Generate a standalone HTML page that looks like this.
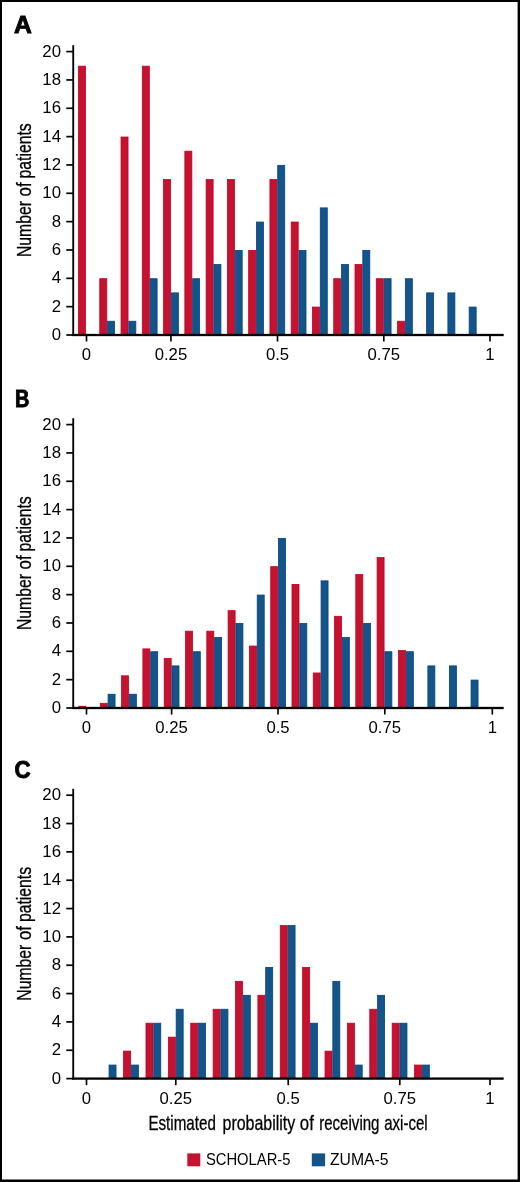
<!DOCTYPE html>
<html lang="en"><head><meta charset="utf-8"><title>Propensity score distributions</title>
<style>html,body{margin:0;padding:0;background:#fff}body{width:520px;height:1182px;overflow:hidden}svg{display:block;will-change:transform}text{font-family:'Liberation Sans', Arial, sans-serif;fill:#000}</style></head><body>
<svg width="520" height="1182" viewBox="0 0 520 1182">
<rect x="0" y="0" width="520" height="1182" fill="#fff"/>
<g fill="#000"><rect x="0" y="0" width="520" height="2"/><rect x="0" y="0" width="2" height="1182"/><rect x="517.6" y="0" width="2.4" height="1182"/><rect x="0" y="1179.5" width="520" height="2.5"/></g>
<g>
<text x="14.10" y="33.20" font-size="24.0" font-weight="bold" stroke="#000" stroke-width="0.9" textLength="17.8" lengthAdjust="spacingAndGlyphs">A</text>
<rect x="78.50" y="66.17" width="7.00" height="268.83" fill="#c41230" stroke="#c2001f" stroke-width="0.8"/>
<rect x="99.77" y="278.72" width="7.00" height="56.28" fill="#c41230" stroke="#c2001f" stroke-width="0.8"/>
<rect x="107.57" y="321.23" width="7.00" height="13.77" fill="#13558a" stroke="#06427c" stroke-width="0.8"/>
<rect x="121.04" y="137.02" width="7.00" height="197.98" fill="#c41230" stroke="#c2001f" stroke-width="0.8"/>
<rect x="128.84" y="321.23" width="7.00" height="13.77" fill="#13558a" stroke="#06427c" stroke-width="0.8"/>
<rect x="142.31" y="66.17" width="7.00" height="268.83" fill="#c41230" stroke="#c2001f" stroke-width="0.8"/>
<rect x="150.11" y="278.72" width="7.00" height="56.28" fill="#13558a" stroke="#06427c" stroke-width="0.8"/>
<rect x="163.58" y="179.53" width="7.00" height="155.47" fill="#c41230" stroke="#c2001f" stroke-width="0.8"/>
<rect x="171.38" y="292.89" width="7.00" height="42.11" fill="#13558a" stroke="#06427c" stroke-width="0.8"/>
<rect x="184.85" y="151.19" width="7.00" height="183.81" fill="#c41230" stroke="#c2001f" stroke-width="0.8"/>
<rect x="192.65" y="278.72" width="7.00" height="56.28" fill="#13558a" stroke="#06427c" stroke-width="0.8"/>
<rect x="206.12" y="179.53" width="7.00" height="155.47" fill="#c41230" stroke="#c2001f" stroke-width="0.8"/>
<rect x="213.92" y="264.55" width="7.00" height="70.45" fill="#13558a" stroke="#06427c" stroke-width="0.8"/>
<rect x="227.39" y="179.53" width="7.00" height="155.47" fill="#c41230" stroke="#c2001f" stroke-width="0.8"/>
<rect x="235.19" y="250.38" width="7.00" height="84.62" fill="#13558a" stroke="#06427c" stroke-width="0.8"/>
<rect x="248.66" y="250.38" width="7.00" height="84.62" fill="#c41230" stroke="#c2001f" stroke-width="0.8"/>
<rect x="256.46" y="222.04" width="7.00" height="112.96" fill="#13558a" stroke="#06427c" stroke-width="0.8"/>
<rect x="269.93" y="179.53" width="7.00" height="155.47" fill="#c41230" stroke="#c2001f" stroke-width="0.8"/>
<rect x="277.73" y="165.36" width="7.00" height="169.64" fill="#13558a" stroke="#06427c" stroke-width="0.8"/>
<rect x="291.20" y="222.04" width="7.00" height="112.96" fill="#c41230" stroke="#c2001f" stroke-width="0.8"/>
<rect x="299.00" y="250.38" width="7.00" height="84.62" fill="#13558a" stroke="#06427c" stroke-width="0.8"/>
<rect x="312.47" y="307.06" width="7.00" height="27.94" fill="#c41230" stroke="#c2001f" stroke-width="0.8"/>
<rect x="320.27" y="207.87" width="7.00" height="127.13" fill="#13558a" stroke="#06427c" stroke-width="0.8"/>
<rect x="333.74" y="278.72" width="7.00" height="56.28" fill="#c41230" stroke="#c2001f" stroke-width="0.8"/>
<rect x="341.54" y="264.55" width="7.00" height="70.45" fill="#13558a" stroke="#06427c" stroke-width="0.8"/>
<rect x="355.01" y="264.55" width="7.00" height="70.45" fill="#c41230" stroke="#c2001f" stroke-width="0.8"/>
<rect x="362.81" y="250.38" width="7.00" height="84.62" fill="#13558a" stroke="#06427c" stroke-width="0.8"/>
<rect x="376.28" y="278.72" width="7.00" height="56.28" fill="#c41230" stroke="#c2001f" stroke-width="0.8"/>
<rect x="384.08" y="278.72" width="7.00" height="56.28" fill="#13558a" stroke="#06427c" stroke-width="0.8"/>
<rect x="397.55" y="321.23" width="7.00" height="13.77" fill="#c41230" stroke="#c2001f" stroke-width="0.8"/>
<rect x="405.35" y="278.72" width="7.00" height="56.28" fill="#13558a" stroke="#06427c" stroke-width="0.8"/>
<rect x="426.62" y="292.89" width="7.00" height="42.11" fill="#13558a" stroke="#06427c" stroke-width="0.8"/>
<rect x="447.89" y="292.89" width="7.00" height="42.11" fill="#13558a" stroke="#06427c" stroke-width="0.8"/>
<rect x="469.16" y="307.06" width="7.00" height="27.94" fill="#13558a" stroke="#06427c" stroke-width="0.8"/>
<rect x="72.3" y="45.20" width="1.85" height="290.80" fill="#000"/>
<rect x="72.3" y="333.85" width="431.4" height="2.3" fill="#000"/>
<rect x="66.3" y="334.15" width="7" height="1.7" fill="#000"/>
<text x="61" y="340.00" font-size="16.8" text-anchor="end">0</text>
<rect x="66.3" y="305.81" width="7" height="1.7" fill="#000"/>
<text x="61" y="311.66" font-size="16.8" text-anchor="end">2</text>
<rect x="66.3" y="277.47" width="7" height="1.7" fill="#000"/>
<text x="61" y="283.32" font-size="16.8" text-anchor="end">4</text>
<rect x="66.3" y="249.13" width="7" height="1.7" fill="#000"/>
<text x="61" y="254.98" font-size="16.8" text-anchor="end">6</text>
<rect x="66.3" y="220.79" width="7" height="1.7" fill="#000"/>
<text x="61" y="226.64" font-size="16.8" text-anchor="end">8</text>
<rect x="66.3" y="192.45" width="7" height="1.7" fill="#000"/>
<text x="61" y="198.30" font-size="16.8" text-anchor="end">10</text>
<rect x="66.3" y="164.11" width="7" height="1.7" fill="#000"/>
<text x="61" y="169.96" font-size="16.8" text-anchor="end">12</text>
<rect x="66.3" y="135.77" width="7" height="1.7" fill="#000"/>
<text x="61" y="141.62" font-size="16.8" text-anchor="end">14</text>
<rect x="66.3" y="107.43" width="7" height="1.7" fill="#000"/>
<text x="61" y="113.28" font-size="16.8" text-anchor="end">16</text>
<rect x="66.3" y="79.09" width="7" height="1.7" fill="#000"/>
<text x="61" y="84.94" font-size="16.8" text-anchor="end">18</text>
<rect x="66.3" y="50.75" width="7" height="1.7" fill="#000"/>
<text x="61" y="56.60" font-size="16.8" text-anchor="end">20</text>
<rect x="85.68" y="335.00" width="1.65" height="6.5" fill="#000"/>
<text x="86.50" y="359.95" font-size="16.7" text-anchor="middle">0</text>
<rect x="170.13" y="335.00" width="1.65" height="6.5" fill="#000"/>
<text x="170.95" y="359.95" font-size="16.7" text-anchor="middle">0.25</text>
<rect x="276.68" y="335.00" width="1.65" height="6.5" fill="#000"/>
<text x="277.50" y="359.95" font-size="16.7" text-anchor="middle">0.5</text>
<rect x="382.98" y="335.00" width="1.65" height="6.5" fill="#000"/>
<text x="383.80" y="359.95" font-size="16.7" text-anchor="middle">0.75</text>
<rect x="489.18" y="335.00" width="1.65" height="6.5" fill="#000"/>
<text x="490.00" y="359.95" font-size="16.7" text-anchor="middle">1</text>
<text transform="translate(31.1 257.10) rotate(-90)" font-size="20.4" stroke="#000" stroke-width="0.3" textLength="56.00" lengthAdjust="spacingAndGlyphs">Number</text>
<text transform="translate(31.1 196.40) rotate(-90)" font-size="20.4" stroke="#000" stroke-width="0.3" textLength="14.00" lengthAdjust="spacingAndGlyphs">of</text>
<text transform="translate(31.1 178.40) rotate(-90)" font-size="20.4" stroke="#000" stroke-width="0.3" textLength="55.00" lengthAdjust="spacingAndGlyphs">patients</text>
</g>
<g>
<text x="15.10" y="406.70" font-size="23.6" font-weight="bold" stroke="#000" stroke-width="0.9" textLength="14.4" lengthAdjust="spacingAndGlyphs">B</text>
<rect x="78.40" y="705.87" width="7.80" height="2.13" fill="#c2001f"/>
<rect x="100.27" y="703.30" width="7.00" height="4.70" fill="#c41230" stroke="#c2001f" stroke-width="0.8"/>
<rect x="108.07" y="694.23" width="7.00" height="13.77" fill="#13558a" stroke="#06427c" stroke-width="0.8"/>
<rect x="121.58" y="675.81" width="7.00" height="32.19" fill="#c41230" stroke="#c2001f" stroke-width="0.8"/>
<rect x="129.38" y="694.23" width="7.00" height="13.77" fill="#13558a" stroke="#06427c" stroke-width="0.8"/>
<rect x="142.88" y="648.89" width="7.00" height="59.11" fill="#c41230" stroke="#c2001f" stroke-width="0.8"/>
<rect x="150.69" y="651.72" width="7.00" height="56.28" fill="#13558a" stroke="#06427c" stroke-width="0.8"/>
<rect x="164.19" y="658.38" width="7.00" height="49.62" fill="#c41230" stroke="#c2001f" stroke-width="0.8"/>
<rect x="171.99" y="665.89" width="7.00" height="42.11" fill="#13558a" stroke="#06427c" stroke-width="0.8"/>
<rect x="185.50" y="631.17" width="7.00" height="76.83" fill="#c41230" stroke="#c2001f" stroke-width="0.8"/>
<rect x="193.30" y="651.72" width="7.00" height="56.28" fill="#13558a" stroke="#06427c" stroke-width="0.8"/>
<rect x="206.81" y="631.17" width="7.00" height="76.83" fill="#c41230" stroke="#c2001f" stroke-width="0.8"/>
<rect x="214.61" y="637.55" width="7.00" height="70.45" fill="#13558a" stroke="#06427c" stroke-width="0.8"/>
<rect x="228.11" y="610.63" width="7.00" height="97.37" fill="#c41230" stroke="#c2001f" stroke-width="0.8"/>
<rect x="235.91" y="623.38" width="7.00" height="84.62" fill="#13558a" stroke="#06427c" stroke-width="0.8"/>
<rect x="249.42" y="646.05" width="7.00" height="61.95" fill="#c41230" stroke="#c2001f" stroke-width="0.8"/>
<rect x="257.22" y="595.04" width="7.00" height="112.96" fill="#13558a" stroke="#06427c" stroke-width="0.8"/>
<rect x="270.73" y="566.70" width="7.00" height="141.30" fill="#c41230" stroke="#c2001f" stroke-width="0.8"/>
<rect x="278.53" y="538.36" width="7.00" height="169.64" fill="#13558a" stroke="#06427c" stroke-width="0.8"/>
<rect x="292.00" y="584.41" width="7.00" height="123.59" fill="#c41230" stroke="#c2001f" stroke-width="0.8"/>
<rect x="299.80" y="623.38" width="7.00" height="84.62" fill="#13558a" stroke="#06427c" stroke-width="0.8"/>
<rect x="313.27" y="672.98" width="7.00" height="35.02" fill="#c41230" stroke="#c2001f" stroke-width="0.8"/>
<rect x="321.07" y="580.87" width="7.00" height="127.13" fill="#13558a" stroke="#06427c" stroke-width="0.8"/>
<rect x="334.54" y="616.29" width="7.00" height="91.70" fill="#c41230" stroke="#c2001f" stroke-width="0.8"/>
<rect x="342.34" y="637.55" width="7.00" height="70.45" fill="#13558a" stroke="#06427c" stroke-width="0.8"/>
<rect x="355.81" y="574.49" width="7.00" height="133.51" fill="#c41230" stroke="#c2001f" stroke-width="0.8"/>
<rect x="363.61" y="623.38" width="7.00" height="84.62" fill="#13558a" stroke="#06427c" stroke-width="0.8"/>
<rect x="377.08" y="557.49" width="7.00" height="150.51" fill="#c41230" stroke="#c2001f" stroke-width="0.8"/>
<rect x="384.88" y="651.72" width="7.00" height="56.28" fill="#13558a" stroke="#06427c" stroke-width="0.8"/>
<rect x="398.55" y="650.59" width="7.00" height="57.41" fill="#c41230" stroke="#c2001f" stroke-width="0.8"/>
<rect x="406.35" y="651.72" width="7.00" height="56.28" fill="#13558a" stroke="#06427c" stroke-width="0.8"/>
<rect x="427.87" y="665.89" width="7.00" height="42.11" fill="#13558a" stroke="#06427c" stroke-width="0.8"/>
<rect x="449.39" y="665.89" width="7.00" height="42.11" fill="#13558a" stroke="#06427c" stroke-width="0.8"/>
<rect x="471.06" y="680.06" width="7.00" height="27.94" fill="#13558a" stroke="#06427c" stroke-width="0.8"/>
<rect x="72.3" y="418.20" width="1.85" height="290.80" fill="#000"/>
<rect x="72.3" y="706.85" width="431.4" height="2.3" fill="#000"/>
<rect x="66.3" y="707.15" width="7" height="1.7" fill="#000"/>
<text x="61" y="713.00" font-size="16.8" text-anchor="end">0</text>
<rect x="66.3" y="678.81" width="7" height="1.7" fill="#000"/>
<text x="61" y="684.66" font-size="16.8" text-anchor="end">2</text>
<rect x="66.3" y="650.47" width="7" height="1.7" fill="#000"/>
<text x="61" y="656.32" font-size="16.8" text-anchor="end">4</text>
<rect x="66.3" y="622.13" width="7" height="1.7" fill="#000"/>
<text x="61" y="627.98" font-size="16.8" text-anchor="end">6</text>
<rect x="66.3" y="593.79" width="7" height="1.7" fill="#000"/>
<text x="61" y="599.64" font-size="16.8" text-anchor="end">8</text>
<rect x="66.3" y="565.45" width="7" height="1.7" fill="#000"/>
<text x="61" y="571.30" font-size="16.8" text-anchor="end">10</text>
<rect x="66.3" y="537.11" width="7" height="1.7" fill="#000"/>
<text x="61" y="542.96" font-size="16.8" text-anchor="end">12</text>
<rect x="66.3" y="508.77" width="7" height="1.7" fill="#000"/>
<text x="61" y="514.62" font-size="16.8" text-anchor="end">14</text>
<rect x="66.3" y="480.43" width="7" height="1.7" fill="#000"/>
<text x="61" y="486.28" font-size="16.8" text-anchor="end">16</text>
<rect x="66.3" y="452.09" width="7" height="1.7" fill="#000"/>
<text x="61" y="457.94" font-size="16.8" text-anchor="end">18</text>
<rect x="66.3" y="423.75" width="7" height="1.7" fill="#000"/>
<text x="61" y="429.60" font-size="16.8" text-anchor="end">20</text>
<rect x="85.68" y="708.00" width="1.65" height="6.5" fill="#000"/>
<text x="86.50" y="732.95" font-size="16.7" text-anchor="middle">0</text>
<rect x="170.78" y="708.00" width="1.65" height="6.5" fill="#000"/>
<text x="171.60" y="732.95" font-size="16.7" text-anchor="middle">0.25</text>
<rect x="277.18" y="708.00" width="1.65" height="6.5" fill="#000"/>
<text x="278.00" y="732.95" font-size="16.7" text-anchor="middle">0.5</text>
<rect x="383.98" y="708.00" width="1.65" height="6.5" fill="#000"/>
<text x="384.80" y="732.95" font-size="16.7" text-anchor="middle">0.75</text>
<rect x="491.48" y="708.00" width="1.65" height="6.5" fill="#000"/>
<text x="492.30" y="732.95" font-size="16.7" text-anchor="middle">1</text>
<text transform="translate(31.1 630.10) rotate(-90)" font-size="20.4" stroke="#000" stroke-width="0.3" textLength="56.00" lengthAdjust="spacingAndGlyphs">Number</text>
<text transform="translate(31.1 569.40) rotate(-90)" font-size="20.4" stroke="#000" stroke-width="0.3" textLength="14.00" lengthAdjust="spacingAndGlyphs">of</text>
<text transform="translate(31.1 551.40) rotate(-90)" font-size="20.4" stroke="#000" stroke-width="0.3" textLength="55.00" lengthAdjust="spacingAndGlyphs">patients</text>
</g>
<g>
<text x="14.40" y="777.70" font-size="24.2" font-weight="bold" stroke="#000" stroke-width="0.9" textLength="16.1" lengthAdjust="spacingAndGlyphs">C</text>
<rect x="109.03" y="1065.05" width="7.00" height="13.55" fill="#13558a" stroke="#06427c" stroke-width="0.8"/>
<rect x="123.61" y="1051.10" width="7.00" height="27.50" fill="#c41230" stroke="#c2001f" stroke-width="0.8"/>
<rect x="131.41" y="1065.05" width="7.00" height="13.55" fill="#13558a" stroke="#06427c" stroke-width="0.8"/>
<rect x="145.99" y="1023.20" width="7.00" height="55.40" fill="#c41230" stroke="#c2001f" stroke-width="0.8"/>
<rect x="153.79" y="1023.20" width="7.00" height="55.40" fill="#13558a" stroke="#06427c" stroke-width="0.8"/>
<rect x="168.37" y="1037.15" width="7.00" height="41.45" fill="#c41230" stroke="#c2001f" stroke-width="0.8"/>
<rect x="176.17" y="1009.25" width="7.00" height="69.35" fill="#13558a" stroke="#06427c" stroke-width="0.8"/>
<rect x="190.75" y="1023.20" width="7.00" height="55.40" fill="#c41230" stroke="#c2001f" stroke-width="0.8"/>
<rect x="198.55" y="1023.20" width="7.00" height="55.40" fill="#13558a" stroke="#06427c" stroke-width="0.8"/>
<rect x="213.13" y="1009.25" width="7.00" height="69.35" fill="#c41230" stroke="#c2001f" stroke-width="0.8"/>
<rect x="220.93" y="1009.25" width="7.00" height="69.35" fill="#13558a" stroke="#06427c" stroke-width="0.8"/>
<rect x="235.51" y="981.35" width="7.00" height="97.25" fill="#c41230" stroke="#c2001f" stroke-width="0.8"/>
<rect x="243.31" y="995.30" width="7.00" height="83.30" fill="#13558a" stroke="#06427c" stroke-width="0.8"/>
<rect x="257.89" y="995.30" width="7.00" height="83.30" fill="#c41230" stroke="#c2001f" stroke-width="0.8"/>
<rect x="265.69" y="967.40" width="7.00" height="111.20" fill="#13558a" stroke="#06427c" stroke-width="0.8"/>
<rect x="280.27" y="925.55" width="7.00" height="153.05" fill="#c41230" stroke="#c2001f" stroke-width="0.8"/>
<rect x="288.07" y="925.55" width="7.00" height="153.05" fill="#13558a" stroke="#06427c" stroke-width="0.8"/>
<rect x="302.65" y="967.40" width="7.00" height="111.20" fill="#c41230" stroke="#c2001f" stroke-width="0.8"/>
<rect x="310.45" y="1023.20" width="7.00" height="55.40" fill="#13558a" stroke="#06427c" stroke-width="0.8"/>
<rect x="325.03" y="1051.10" width="7.00" height="27.50" fill="#c41230" stroke="#c2001f" stroke-width="0.8"/>
<rect x="332.83" y="981.35" width="7.00" height="97.25" fill="#13558a" stroke="#06427c" stroke-width="0.8"/>
<rect x="347.41" y="1023.20" width="7.00" height="55.40" fill="#c41230" stroke="#c2001f" stroke-width="0.8"/>
<rect x="355.21" y="1065.05" width="7.00" height="13.55" fill="#13558a" stroke="#06427c" stroke-width="0.8"/>
<rect x="369.79" y="1009.25" width="7.00" height="69.35" fill="#c41230" stroke="#c2001f" stroke-width="0.8"/>
<rect x="377.59" y="995.30" width="7.00" height="83.30" fill="#13558a" stroke="#06427c" stroke-width="0.8"/>
<rect x="392.17" y="1023.20" width="7.00" height="55.40" fill="#c41230" stroke="#c2001f" stroke-width="0.8"/>
<rect x="399.97" y="1023.20" width="7.00" height="55.40" fill="#13558a" stroke="#06427c" stroke-width="0.8"/>
<rect x="414.55" y="1065.05" width="7.00" height="13.55" fill="#c41230" stroke="#c2001f" stroke-width="0.8"/>
<rect x="422.35" y="1065.05" width="7.00" height="13.55" fill="#13558a" stroke="#06427c" stroke-width="0.8"/>
<rect x="72.3" y="788.80" width="1.85" height="290.80" fill="#000"/>
<rect x="72.3" y="1077.45" width="431.4" height="2.3" fill="#000"/>
<rect x="66.3" y="1077.75" width="7" height="1.7" fill="#000"/>
<text x="61" y="1083.60" font-size="16.8" text-anchor="end">0</text>
<rect x="66.3" y="1049.41" width="7" height="1.7" fill="#000"/>
<text x="61" y="1055.26" font-size="16.8" text-anchor="end">2</text>
<rect x="66.3" y="1021.07" width="7" height="1.7" fill="#000"/>
<text x="61" y="1026.92" font-size="16.8" text-anchor="end">4</text>
<rect x="66.3" y="992.73" width="7" height="1.7" fill="#000"/>
<text x="61" y="998.58" font-size="16.8" text-anchor="end">6</text>
<rect x="66.3" y="964.39" width="7" height="1.7" fill="#000"/>
<text x="61" y="970.24" font-size="16.8" text-anchor="end">8</text>
<rect x="66.3" y="936.05" width="7" height="1.7" fill="#000"/>
<text x="61" y="941.90" font-size="16.8" text-anchor="end">10</text>
<rect x="66.3" y="907.71" width="7" height="1.7" fill="#000"/>
<text x="61" y="913.56" font-size="16.8" text-anchor="end">12</text>
<rect x="66.3" y="879.37" width="7" height="1.7" fill="#000"/>
<text x="61" y="885.22" font-size="16.8" text-anchor="end">14</text>
<rect x="66.3" y="851.03" width="7" height="1.7" fill="#000"/>
<text x="61" y="856.88" font-size="16.8" text-anchor="end">16</text>
<rect x="66.3" y="822.69" width="7" height="1.7" fill="#000"/>
<text x="61" y="828.54" font-size="16.8" text-anchor="end">18</text>
<rect x="66.3" y="794.35" width="7" height="1.7" fill="#000"/>
<text x="61" y="800.20" font-size="16.8" text-anchor="end">20</text>
<rect x="85.68" y="1078.60" width="1.65" height="6.5" fill="#000"/>
<text x="86.50" y="1103.55" font-size="16.7" text-anchor="middle">0</text>
<rect x="174.98" y="1078.60" width="1.65" height="6.5" fill="#000"/>
<text x="175.80" y="1103.55" font-size="16.7" text-anchor="middle">0.25</text>
<rect x="287.38" y="1078.60" width="1.65" height="6.5" fill="#000"/>
<text x="288.20" y="1103.55" font-size="16.7" text-anchor="middle">0.5</text>
<rect x="398.98" y="1078.60" width="1.65" height="6.5" fill="#000"/>
<text x="399.80" y="1103.55" font-size="16.7" text-anchor="middle">0.75</text>
<rect x="489.18" y="1078.60" width="1.65" height="6.5" fill="#000"/>
<text x="490.00" y="1103.55" font-size="16.7" text-anchor="middle">1</text>
<text transform="translate(31.1 1000.70) rotate(-90)" font-size="20.4" stroke="#000" stroke-width="0.3" textLength="56.00" lengthAdjust="spacingAndGlyphs">Number</text>
<text transform="translate(31.1 940.00) rotate(-90)" font-size="20.4" stroke="#000" stroke-width="0.3" textLength="14.00" lengthAdjust="spacingAndGlyphs">of</text>
<text transform="translate(31.1 922.00) rotate(-90)" font-size="20.4" stroke="#000" stroke-width="0.3" textLength="55.00" lengthAdjust="spacingAndGlyphs">patients</text>
</g>
<text x="148.40" y="1129.7" font-size="20.4" stroke="#000" stroke-width="0.3" textLength="67.50" lengthAdjust="spacingAndGlyphs">Estimated</text>
<text x="222.50" y="1129.7" font-size="20.4" stroke="#000" stroke-width="0.3" textLength="72.80" lengthAdjust="spacingAndGlyphs">probability</text>
<text x="299.80" y="1129.7" font-size="20.4" stroke="#000" stroke-width="0.3" textLength="14.00" lengthAdjust="spacingAndGlyphs">of</text>
<text x="319.20" y="1129.7" font-size="20.4" stroke="#000" stroke-width="0.3" textLength="60.30" lengthAdjust="spacingAndGlyphs">receiving</text>
<text x="384.20" y="1129.7" font-size="20.4" stroke="#000" stroke-width="0.3" textLength="43.50" lengthAdjust="spacingAndGlyphs">axi-cel</text>
<rect x="187.3" y="1153.4" width="13" height="12.9" fill="#c41230"/>
<text x="205.9" y="1165.3" font-size="16.6" textLength="84.6" lengthAdjust="spacingAndGlyphs">SCHOLAR-5</text>
<rect x="311.8" y="1153.4" width="13.3" height="12.9" fill="#13558a"/>
<text x="329.9" y="1165.3" font-size="16.6" textLength="58.6" lengthAdjust="spacingAndGlyphs">ZUMA-5</text>
</svg></body></html>
